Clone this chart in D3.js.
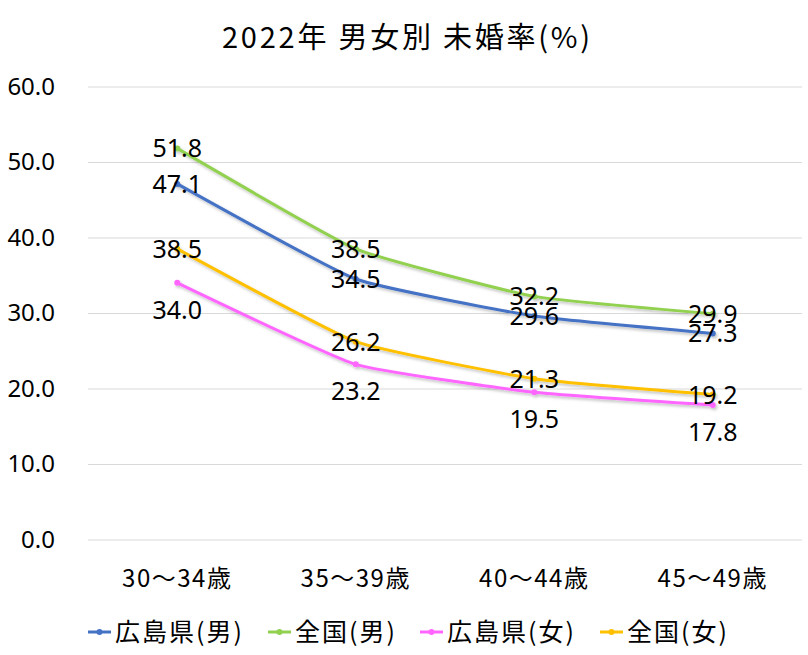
<!DOCTYPE html>
<html>
<head>
<meta charset="utf-8">
<script src="https://cdn.jsdelivr.net/npm/d3@7"></script>
<style>
  body { margin: 0; background: #fff; }
  text { font-family: "Noto Sans", "Noto Sans CJK JP", sans-serif; fill: #000; }
</style>
</head>
<body>
<div id="chart"></div>
<script>
const categories = ['30～34歳', '35～39歳', '40～44歳', '45～49歳'];
const seriesNames = ['広島県(男)', '全国(男)', '広島県(女)', '全国(女)'];
const hiroshimaMale = [47.1, 34.5, 29.6, 27.3];
const nationalMale = [51.8, 38.5, 32.2, 29.9];
const hiroshimaFemale = [34.0, 23.2, 19.5, 17.8];
const nationalFemale = [38.5, 26.2, 21.3, 19.2];
const yTicks = [0, 10, 20, 30, 40, 50, 60];

const colors = ['#4472C4', '#92D050', '#FF66FF', '#FFC000'];
const labelBelow = [false, false, true, false];

const width = 808, height = 655;
const margin = {top: 86.5, right: 6, bottom: 115.5, left: 88};
const innerW = width - margin.left - margin.right;
const innerH = height - margin.top - margin.bottom;

const svg = d3.select('#chart').append('svg')
    .attr('width', width)
    .attr('height', height);

const defs = svg.append('defs');
const f = defs.append('filter').attr('id', 'shadow')
    .attr('x', '-10%').attr('y', '-10%').attr('width', '120%').attr('height', '130%');
f.append('feDropShadow').attr('dx', 1.5).attr('dy', 2).attr('stdDeviation', 1.5)
    .attr('flood-color', '#000').attr('flood-opacity', 0.25);

svg.append('text')
    .attr('x', 222).attr('y', 48)
    .attr('textLength', 368)
    .attr('lengthAdjust', 'spacing')
    .style('font-family', '"Noto Sans CJK JP", sans-serif')
    .style('font-size', '29px')
    .text('2022年 男女別 未婚率(%)');

const g = svg.append('g').attr('transform', `translate(${margin.left},${margin.top})`);

const x = d3.scaleBand().domain(categories).range([0, innerW]);
const y = d3.scaleLinear().domain([0, 60]).range([innerH, 0]);

// gridlines
g.append('g')
  .call(d3.axisLeft(y).tickValues(yTicks).tickSize(-innerW).tickFormat(''))
  .call(a => a.select('.domain').remove())
  .call(a => a.selectAll('line').attr('stroke', '#d9d9d9').attr('stroke-width', 1));

// y labels
g.append('g')
  .call(d3.axisLeft(y).tickValues(yTicks).tickSize(0).tickPadding(33).tickFormat(d3.format('.1f')))
  .call(a => a.select('.domain').remove())
  .call(a => a.selectAll('text').style('font-size', '24px'));

// x labels
g.append('g')
  .attr('transform', `translate(0,${innerH})`)
  .call(d3.axisBottom(x).tickSize(0).tickPadding(30))
  .call(a => a.select('.domain').remove())
  .call(a => a.selectAll('text').style('font-size', '24px')
      .style('letter-spacing', '1.5px')
      .style('font-family', '"Noto Sans CJK JP", sans-serif'));

const series = [hiroshimaMale, nationalMale, hiroshimaFemale, nationalFemale];
const cx = c => x(c) + x.bandwidth() / 2;

const line = d3.line()
    .x((d, i) => cx(categories[i]))
    .y(d => y(d))
    .curve(d3.curveCardinal.tension(0.6));

series.forEach((vals, si) => {
  const sg = g.append('g').attr('filter', 'url(#shadow)');
  sg.append('path')
    .datum(vals)
    .attr('fill', 'none')
    .attr('stroke', colors[si])
    .attr('stroke-width', 3)
    .attr('stroke-linecap', 'round')
    .attr('d', line);
  sg.selectAll('circle').data(vals).join('circle')
    .attr('cx', (d, i) => cx(categories[i]))
    .attr('cy', d => y(d))
    .attr('r', 3)
    .attr('fill', colors[si]);
});

// data labels drawn on top
series.forEach((vals, si) => {
  g.append('g').selectAll('text').data(vals).join('text')
    .attr('x', (d, i) => cx(categories[i]))
    .attr('y', d => y(d) + (labelBelow[si] ? 27 : 0))
    .attr('dy', '0.36em')
    .attr('text-anchor', 'middle')
    .style('font-size', '25px')
    .text(d => d.toFixed(1));
});

// legend
const legendX = [88, 268, 420, 600];
const legendW = [127, 100, 127, 100];
const legend = svg.append('g').attr('transform', 'translate(0,632)');
seriesNames.forEach((name, i) => {
  const lg = legend.append('g').attr('transform', `translate(${legendX[i]},0)`);
  lg.append('line').attr('x1', 0).attr('x2', 23).attr('y1', 0).attr('y2', 0)
    .attr('stroke', colors[i]).attr('stroke-width', 3);
  lg.append('circle').attr('cx', 11.5).attr('cy', 0).attr('r', 3).attr('fill', colors[i]);
  lg.append('text').attr('x', 27).attr('dy', '0.36em')
    .attr('textLength', legendW[i])
    .attr('lengthAdjust', 'spacing')
    .style('font-size', '25px')
    .style('font-family', '"Noto Sans CJK JP", sans-serif')
    .text(name);
});
</script>
</body>
</html>
